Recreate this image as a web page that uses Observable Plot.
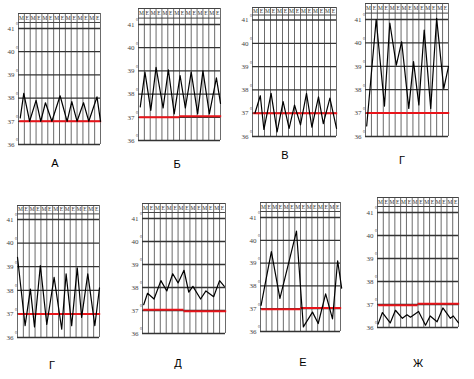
<!DOCTYPE html>
<html><head><meta charset="utf-8">
<script src="https://cdn.jsdelivr.net/npm/d3@7"></script>
<script src="https://cdn.jsdelivr.net/npm/@observablehq/plot@0.6"></script>
<style>
body{margin:0;background:#fff;}
#wrap{position:relative;width:474px;height:379px;overflow:hidden;background:#fff;}
.panel{position:absolute;}
.lab{position:absolute;font-family:"Liberation Sans",Arial,sans-serif;font-size:11px;color:#000;transform:translate(-50%,-50%);}
</style></head><body><div id="wrap"></div>
<script>
// ---- data ----
const panelNames = ["А","Б","В","Г","Г","Д","Е","Ж"];
const degrees = [36, 37, 38, 39, 40, 41];
const columns = [0,1,2,3,4,5,6,7,8,9,10,11,12,13,14];
const shiftLabels = ["M","E","M","E","M","E","M","E","M","E","M","E","M","E"];

const xA = [0.3,0.9,1.9,3.0,3.8,4.6,5.7,7.1,8.3,9.1,10,11.1,12,13.4,14];
const tA = [37.15,38.2,37.0,37.9,37.0,37.8,37.0,38.1,37.0,37.85,37.0,37.8,37.0,38.05,37.0];
const xB = [0.3,1.1,2.1,3.0,4.2,5.1,6.1,7.1,8.0,9.0,10.1,11.0,12.1,13.3,14];
const tB = [37.45,38.95,37.3,39.15,37.4,39.05,37.15,38.8,37.4,38.95,37.15,39.0,37.15,38.7,37.6];
const xV = [0.4,1.3,1.9,3.1,4.1,5.1,6.1,7.0,8.0,9.0,9.9,11.0,11.8,12.9,14.0];
const tV = [37.0,37.75,36.3,37.85,36.2,37.5,36.35,37.35,36.5,37.85,36.4,37.7,36.55,37.65,36.35];
const xG1 = [0.2,1.8,3.2,4.1,5.2,6.1,7.3,8.1,9.0,9.9,11.0,12.0,13.2,14.0];
const tG1 = [36.45,41.0,37.3,40.85,39.05,40.05,37.2,39.2,37.35,40.55,37.2,41.05,38.05,39.0];
const xG2 = [0,1.3,2.2,2.9,3.9,5.0,6.25,7.55,8.3,9.25,10.2,10.95,12.0,13.2,14];
const tG2 = [39.4,36.5,38.05,36.45,39.05,36.55,38.55,36.35,38.7,36.5,38.95,36.85,38.7,36.5,38.1];
const xD = [0.2,0.85,1.95,3.1,4.1,5.1,6.0,7.0,7.8,8.5,9.8,10.7,12.0,13.0,13.8];
const tD = [37.25,37.75,37.5,38.3,37.85,38.6,38.2,38.75,37.8,38.05,37.5,37.85,37.6,38.3,38.05];
const xE = [0.1,1.9,3.4,6.3,7.5,9.1,10.1,11.4,12.6,13.5,14.2];
const tE = [37.15,39.5,37.45,40.4,36.2,36.85,36.35,37.65,36.55,39.1,37.9];
const xZh = [0.1,0.85,2.2,3.1,4.3,5.1,5.7,7.1,8.3,9.1,10.3,11.3,12.6,13.1,14];
const tZh = [36.15,36.65,36.2,36.75,36.4,36.55,36.45,36.7,36.1,36.5,36.25,36.85,36.4,36.5,36.2];
// normal-temperature (red) line: [first half, second half]
const normA = [37.0,37.0], normB = [37.0,37.05], normV = [37.0,37.0], normG1 = [37.0,37.0];
const normG2 = [37.0,37.0], normD = [37.03,36.97], normE = [36.98,37.03], normZh = [36.97,37.03];

const series = [[xA,tA,normA],[xB,tB,normB],[xV,tV,normV],[xG1,tG1,normG1],
                [xG2,tG2,normG2],[xD,tD,normD],[xE,tE,normE],[xZh,tZh,normZh]];

// ---- layout (pixel geometry of each panel grid) ----
const layout = [
  {left:18, right:100, y41:28, y36:144, top:13, lx:55, ly:163},
  {left:138, right:220, y41:24, y36:140, top:8, lx:177, ly:164},
  {left:252, right:336, y41:19.5, y36:136, top:7, lx:285, ly:155},
  {left:365, right:448, y41:19, y36:136, top:3, lx:402, ly:160},
  {left:17, right:99, y41:219, y36:337, top:205, lx:52, ly:365},
  {left:142, right:225, y41:218, y36:333, top:203, lx:178, ly:363},
  {left:260, right:340, y41:217, y36:331, top:202, lx:303, ly:362},
  {left:377, right:458, y41:212, y36:327, top:197, lx:418, ly:363}
];

const wrap = document.getElementById("wrap");
series.forEach(([xs, ts, norm], k) => {
  const L = layout[k];
  const mL = 20, mR = 6, mB = 4;
  const svgTop = L.top - 2;
  const mT = L.y41 - svgTop;
  const height = L.y36 - svgTop + mB;
  const width = L.right - L.left + mL + mR;
  const pxPerDeg = (L.y36 - L.y41) / 5;
  const hTop = 41 + (L.y41 - L.top) / pxPerDeg;
  const hBot = 41 + (L.y41 - L.top) / pxPerDeg * 0.4;
  const hMid = (hTop + hBot) / 2;
  const pts = xs.map((x, i) => ({x, t: ts[i]}));
  const normSeg = [{x1:0.2, x2:7, y:norm[0]}, {x1:7, x2:14.2, y:norm[1]}];
  const svg = Plot.plot({
    width, height, marginLeft: mL, marginRight: mR, marginTop: mT, marginBottom: mB,
    x: {domain: [0, 14], axis: null},
    y: {domain: [36, 41], axis: null},
    style: {background: "transparent", overflow: "visible"},
    marks: [
      Plot.ruleX(columns, {x: d => d, y1: 36, y2: hTop, stroke: "#5a5a5a", strokeWidth: 0.9}),
      Plot.ruleY(degrees, {y: d => d, x1: 0, x2: 14, stroke: "#333", strokeWidth: 1.3}),
      Plot.ruleY([hTop, hBot], {y: d => d, x1: 0, x2: 14, stroke: "#444", strokeWidth: 1}),
      Plot.text(shiftLabels, {x: (d, i) => i + 0.5, y: hMid, text: d => d, fontSize: 5.5,
        fontFamily: "Liberation Serif, serif", fill: "#333"}),
      Plot.text(degrees, {x: 0, y: d => d, text: d => String(d), dx: -4, textAnchor: "end",
        fontSize: 7, fontFamily: "Liberation Serif, serif", fill: "#444"}),
      Plot.text(degrees, {x: 0, y: d => d, text: () => "°", dx: -1.5, dy: -3, textAnchor: "middle",
        fontSize: 6, fontFamily: "Liberation Serif, serif", fill: "#444"}),
      Plot.ruleY(normSeg, {y: "y", x1: "x1", x2: "x2", stroke: "#e8141a", strokeWidth: 2}),
      Plot.line(pts, {x: "x", y: "t", stroke: "#000", strokeWidth: 1.2})
    ]
  });
  svg.classList.add("panel");
  svg.style.left = (L.left - mL) + "px";
  svg.style.top = svgTop + "px";
  wrap.appendChild(svg);
  const lab = document.createElement("div");
  lab.className = "lab";
  lab.textContent = panelNames[k];
  lab.style.left = L.lx + "px";
  lab.style.top = L.ly + "px";
  wrap.appendChild(lab);
});
</script></body></html>
